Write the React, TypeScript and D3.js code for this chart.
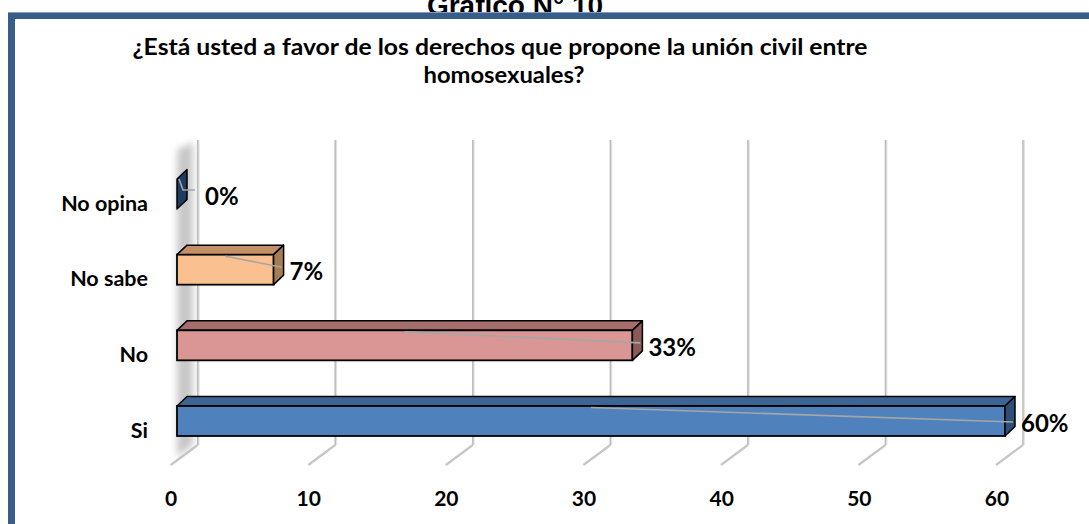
import React from "react";
import * as d3 from "d3";

const categories = ["Si", "No", "No sabe", "No opina"];
const values = [60, 33, 7, 0];
const valueLabels = ["60%", "33%", "7%", "0%"];
const ticks = [0, 10, 20, 30, 40, 50, 60];
const frontColors = ["#4F81BD", "#D99694", "#FAC090", "#1F3B5F"];
const topColors = ["#3B6594", "#A56E6D", "#C39068", "#1F3B5F"];
const sideColors = ["#2E5078", "#8B5A59", "#A67C55", "#1F3B5F"];

const W = 1089;
const H = 524;
const FONT = "Lato, 'Open Sans', sans-serif";

export default function App() {
  const xFront = d3.scaleLinear().domain([0, 60]).range([177, 1005]);
  const xBack = d3.scaleLinear().domain([0, 60]).range([197.7, 1023]);
  const xTick = d3.scaleLinear().domain([0, 60]).range([171, 997]);
  const y = d3.scalePoint<string>().domain(["No opina", "No sabe", "No", "Si"]).range([194, 421]);
  const barH = 30;
  const dx = 10;
  const dy = -9.5;
  const gridTop = 140;
  const gridBottom = 445;

  return (
    <svg width={W} height={H} style={{ position: "absolute", left: 0, top: 0, background: "#fff" }}>
      <defs>
        <filter id="blur" x="-50%" y="-10%" width="200%" height="120%">
          <feGaussianBlur stdDeviation="3.5" />
        </filter>
      </defs>
      <rect x={0} y={0} width={W} height={H} fill="#fff" />
      {/* Outer title (clipped by frame) */}
      <text x={515} y={15} textAnchor="middle" fontFamily="'Liberation Sans', Arial, sans-serif" fontWeight="bold" fontSize={28} fill="#000">
        Gráfico N° 10
      </text>
      {/* frame */}
      <rect x={11.5} y={15.5} width={W + 20} height={H + 20} fill="none" stroke="#385D8A" strokeWidth={7} />
      <line x1={8} y1={12.5} x2={W} y2={12.5} stroke="#7F9CC0" strokeWidth={1} />

      {/* subtitle */}
      <text x={500} y={55} textAnchor="middle" fontFamily={FONT} fontWeight="bold" fontSize={23} textLength={735} lengthAdjust="spacingAndGlyphs" fill="#000">
        ¿Está usted a favor de los derechos que propone la unión civil entre
      </text>
      <text x={504} y={83} textAnchor="middle" fontFamily={FONT} fontWeight="bold" fontSize={23} textLength={161} lengthAdjust="spacingAndGlyphs" fill="#000">
        homosexuales?
      </text>

      {/* left wall shadow */}
      <polygon points={`177,150 193,142 193,${gridBottom} 177,${gridBottom + 12}`} fill="#9a9a9a" opacity={0.55} filter="url(#blur)" />

      {/* gridlines */}
      {ticks.map((t) => {
        const bx = xBack(t);
        return (
          <g key={t}>
            <line x1={bx + 1.2} y1={gridTop} x2={bx + 1.2} y2={gridBottom} stroke="#E3E3E3" strokeWidth={1.5} />
            <line x1={bx} y1={gridTop} x2={bx} y2={gridBottom} stroke="#BDBDBD" strokeWidth={1.6} />
            <line x1={bx} y1={gridBottom} x2={bx - 27} y2={gridBottom + 20} stroke="#C6C6C6" strokeWidth={2.2} />
          </g>
        );
      })}

      {/* bars */}
      {categories.map((c, i) => {
        const v = values[i];
        const x0 = xFront(0);
        const x1 = xFront(v);
        const cy = y(c) as number;
        const top = cy - barH / 2;
        const bot = cy + barH / 2;
        const topFace = `${x0},${top} ${x0 + dx},${top + dy} ${x1 + dx},${top + dy} ${x1},${top}`;
        const sideFace = `${x1},${top} ${x1 + dx},${top + dy} ${x1 + dx},${bot + dy} ${x1},${bot}`;
        let leader: string;
        if (v === 0) {
          leader = `${x0 + 2},${top} ${x0 + 6},${cy - 4} ${x0 + 18},${cy - 4}`;
        } else {
          const endY = i === 0 ? cy + 1 : cy - 2.5;
          leader = `${xFront(v / 2)},${top + 1.5} ${x1 + 8},${endY}`;
        }
        return (
          <g key={c}>
            {v > 0 && <polygon points={topFace} fill={topColors[i]} stroke="#000" strokeWidth={1.5} strokeLinejoin="round" />}
            {v > 0 && <rect x={x0} y={top} width={x1 - x0} height={barH} fill={frontColors[i]} stroke="#000" strokeWidth={1.8} />}
            <polygon points={sideFace} fill={sideColors[i]} stroke="#000" strokeWidth={1.5} strokeLinejoin="round" />
            <polyline points={leader} fill="none" stroke="#A6A6A6" strokeWidth={1.6} />
            <text x={x1 + (v === 0 ? 28 : 16)} y={cy + 1} dominantBaseline="central" fontFamily={FONT} fontWeight="bold" fontSize={24} fill="#000">
              {valueLabels[i]}
            </text>
            <text x={148} y={cy + 8.5} textAnchor="end" dominantBaseline="central" fontFamily={FONT} fontWeight="bold" fontSize={21.5} fill="#000">
              {c}
            </text>
          </g>
        );
      })}

      {/* x tick labels */}
      {ticks.map((t) => (
        <text key={t} x={xTick(t)} y={497} textAnchor="middle" dominantBaseline="central" fontFamily={FONT} fontWeight="bold" fontSize={21} fill="#000">
          {t}
        </text>
      ))}
    </svg>
  );
}
